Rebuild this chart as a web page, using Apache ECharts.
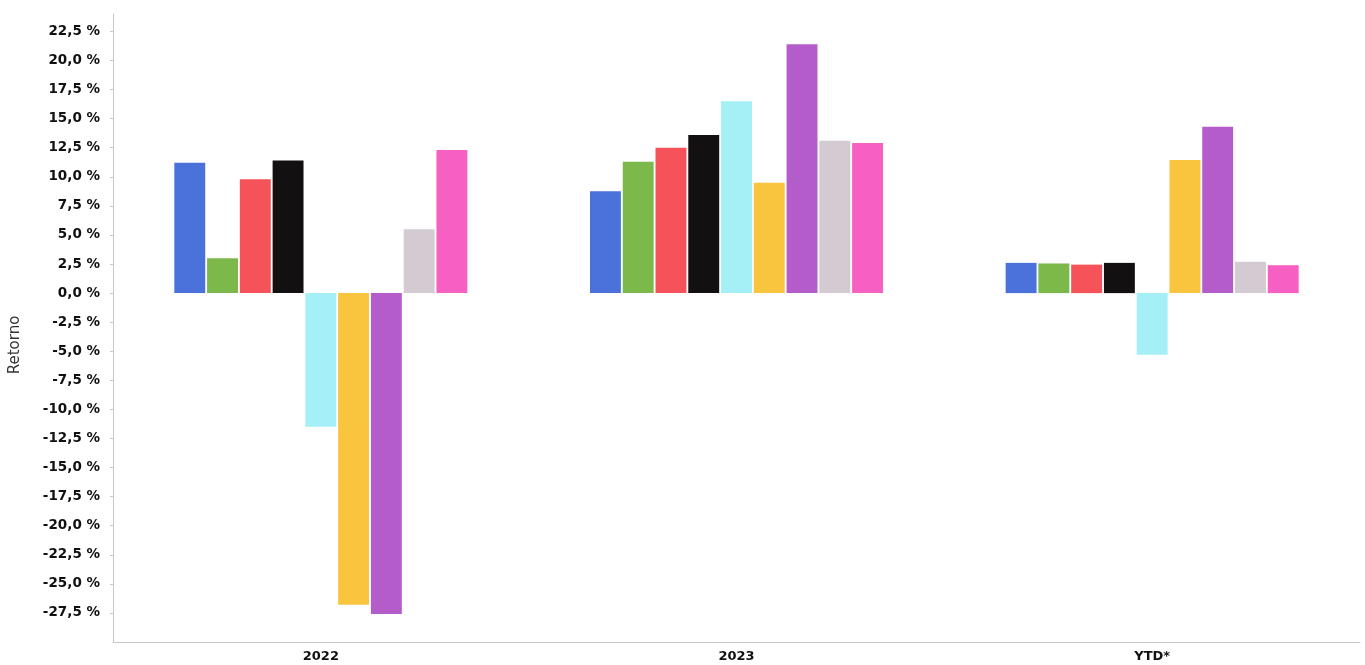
<!DOCTYPE html>
<html>
<head>
<meta charset="utf-8">
<script src="https://cdn.jsdelivr.net/npm/echarts@6/dist/echarts.min.js"></script>
<style>
  html, body { margin: 0; padding: 0; background: #fff; }
  #chart { width: 1365px; height: 665px; }
</style>
</head>
<body>
<div id="chart"></div>
<script>
const categories = ['2022', '2023', 'YTD*'];
const seriesA = [11.2, 8.75, 2.6];
const seriesB = [3.0, 11.3, 2.55];
const seriesC = [9.8, 12.5, 2.45];
const seriesD = [11.4, 13.6, 2.6];
const seriesE = [-11.5, 16.5, -5.3];
const seriesF = [-26.8, 9.5, 11.45];
const seriesG = [-27.6, 21.4, 14.3];
const seriesH = [5.5, 13.1, 2.7];
const seriesI = [12.3, 12.9, 2.4];
const seriesValues = [seriesA, seriesB, seriesC, seriesD, seriesE, seriesF, seriesG, seriesH, seriesI];
const seriesColors = ['#4a72da', '#7cb84a', '#f5525a', '#121010', '#a4f0f6', '#f9c43e', '#b45cc9', '#d4cad2', '#f660c3'];
const yMin = -30, yMax = 24, yStep = 2.5;
const shownTicks = [22.5, 20, 17.5, 15, 12.5, 10, 7.5, 5, 2.5, 0, -2.5, -5, -7.5, -10, -12.5, -15, -17.5, -20, -22.5, -25, -27.5];

const chart = echarts.init(document.getElementById('chart'), null, { renderer: 'canvas' });
const fmt = v => {
  const r = Math.round(v * 10) / 10;
  if (!shownTicks.some(t => Math.abs(t - r) < 1e-6)) return '';
  return r.toFixed(1).replace('.', ',') + ' %';
};
chart.setOption({
  animation: false,
  backgroundColor: '#ffffff',
  grid: { left: 111, right: 5, top: 14, bottom: 23, containLabel: false },
  xAxis: {
    type: 'category',
    data: categories,
    axisLine: { onZero: false, lineStyle: { color: '#c8c8c8' } },
    axisTick: { show: false },
    axisLabel: { color: '#111', fontFamily: 'DejaVu Sans', fontSize: 13, fontWeight: 'bold', margin: 8 },
    splitLine: { show: false }
  },
  yAxis: {
    type: 'value',
    min: yMin, max: yMax, interval: yStep,
    name: 'Retorno',
    nameLocation: 'middle',
    nameGap: 90,
    nameRotate: 90,
    nameTextStyle: { color: '#333', fontFamily: 'DejaVu Sans', fontSize: 15, padding: [0, 34, 0, 0] },
    axisLine: { show: true, lineStyle: { color: '#c8c8c8' } },
    axisTick: { show: true, length: 3, lineStyle: { color: '#c8c8c8' } },
    axisLabel: { color: '#111', fontFamily: 'DejaVu Sans', fontSize: 13.5, fontWeight: 'bold', margin: 13, formatter: fmt, showMaxLabel: false, showMinLabel: false },
    splitLine: { show: false }
  },
  series: seriesValues.map((vals, i) => ({
    type: 'bar',
    data: vals,
    barGap: '6%',
    barCategoryGap: '29.5%',
    itemStyle: { color: seriesColors[i] }
  }))
});
</script>
</body>
</html>
